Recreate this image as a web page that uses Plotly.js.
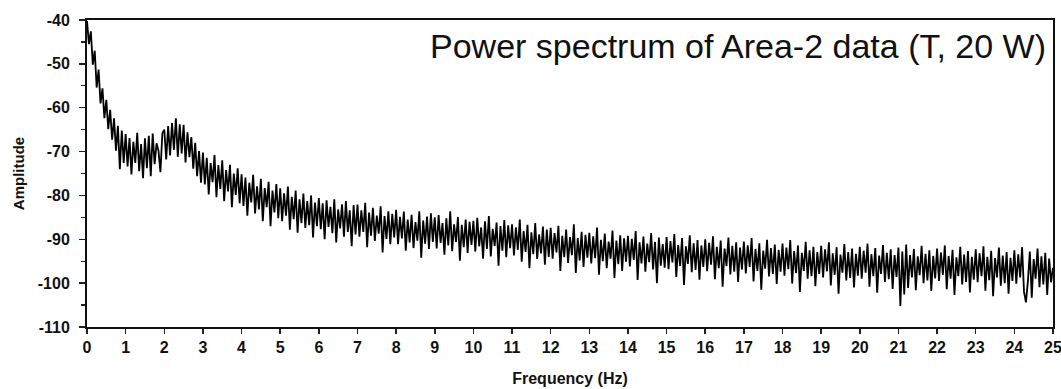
<!DOCTYPE html>
<html>
<head>
<meta charset="utf-8">
<script src="https://cdn.plot.ly/plotly-3.0.1.min.js"></script>
<style>html,body{margin:0;padding:0;background:#fff;}#chart{width:1061px;height:389px;}</style>
</head>
<body>
<div id="chart"></div>
<script>
// Frequency grid: start and spacing (Hz)
const freqStart = 0;
const freqStep = 0.05;

// Amplitude values, one per 0.05 Hz, 0 .. 25 Hz
const amplitude = [
  // 0.00 - 0.95
  -40.2, -45.5, -42.6, -50.2, -47.0, -55.4, -51.3, -59.0, -55.6, -62.4, -58.2, -64.9, -60.5, -67.3, -62.4, -69.8, -64.1, -74.0, -65.2, -72.6,
  // 1
  -66.0, -73.4, -66.9, -75.2, -67.8, -72.6, -65.7, -74.5, -68.3, -76.1, -67.0, -73.8, -66.4, -75.6, -65.9, -72.9, -68.1, -69.8, -74.7, -65.8,
  // 2
  -65.0, -71.8, -64.2, -70.9, -63.5, -69.6, -62.4, -71.2, -63.8, -70.4, -63.9, -72.5, -65.6, -71.3, -66.7, -73.9, -68.0, -75.6, -69.9, -77.1,
  // 3
  -70.2, -77.5, -71.4, -79.8, -72.6, -77.0, -70.8, -80.4, -73.1, -78.5, -72.0, -81.3, -74.2, -79.1, -73.0, -82.7, -75.0, -79.9, -73.8, -81.8,
  // 4
  -75.2, -82.4, -75.9, -84.6, -77.1, -81.6, -75.3, -84.1, -77.9, -83.2, -76.2, -85.9, -78.3, -82.7, -76.9, -87.0, -78.9, -83.9, -77.4, -85.2,
  // 5
  -78.4, -85.9, -79.5, -84.6, -78.0, -87.8, -80.3, -85.4, -78.9, -88.5, -80.9, -86.3, -79.6, -87.4, -81.3, -86.8, -80.0, -89.6, -81.6, -87.0,
  // 6
  -80.6, -87.7, -81.8, -90.0, -81.1, -87.2, -82.6, -88.6, -80.9, -90.7, -83.2, -87.5, -82.0, -89.4, -81.3, -88.3, -83.4, -91.6, -82.2, -88.9,
  // 7
  -82.1, -89.4, -83.4, -88.3, -81.7, -91.8, -83.9, -89.2, -82.8, -90.4, -84.6, -88.7, -82.5, -93.0, -84.7, -89.9, -83.6, -91.1, -84.2, -89.6,
  // 8
  -83.3, -91.1, -84.9, -89.8, -83.7, -92.6, -85.5, -90.7, -84.4, -92.0, -86.1, -90.3, -83.6, -94.2, -85.7, -91.0, -84.8, -92.2, -84.1, -90.6,
  // 9
  -85.0, -92.1, -84.5, -90.8, -86.3, -93.5, -85.2, -91.4, -83.6, -92.7, -86.6, -90.6, -84.9, -94.9, -86.7, -91.8, -85.5, -93.1, -86.0, -91.3,
  // 10
  -85.8, -92.8, -85.1, -91.6, -87.3, -94.4, -85.9, -92.2, -84.7, -93.9, -87.6, -91.5, -86.2, -96.0, -87.0, -92.6, -85.6, -94.1, -86.8, -92.0,
  // 11
  -86.6, -93.7, -87.3, -92.4, -85.5, -95.1, -88.1, -92.9, -86.7, -96.6, -88.4, -93.4, -86.3, -94.5, -88.9, -93.2, -87.1, -95.8, -87.8, -94.0,
  // 12
  -87.4, -94.4, -88.6, -93.0, -86.9, -97.2, -89.2, -94.1, -87.8, -95.4, -89.5, -93.6, -86.6, -97.7, -89.7, -94.8, -88.3, -96.3, -89.0, -94.2,
  // 13
  -88.5, -95.5, -89.3, -94.3, -87.3, -98.1, -90.1, -95.0, -88.7, -96.6, -90.5, -94.4, -88.0, -98.8, -90.3, -95.7, -89.1, -97.2, -89.8, -95.1,
  // 14
  -89.2, -96.2, -89.9, -94.7, -88.1, -99.3, -90.7, -95.5, -89.4, -97.4, -91.0, -95.2, -88.6, -96.9, -90.6, -100.0, -89.6, -96.0, -91.1, -96.5,
  // 15
  -89.5, -96.8, -90.4, -95.3, -88.8, -98.6, -91.3, -96.1, -89.7, -100.4, -91.6, -95.6, -89.1, -97.5, -90.9, -97.0, -90.2, -99.2, -91.4, -96.3,
  // 16
  -90.0, -97.3, -90.8, -95.8, -89.3, -99.1, -91.7, -96.6, -90.3, -100.8, -92.1, -96.1, -89.6, -98.0, -91.5, -97.4, -90.7, -99.7, -91.9, -96.9,
  // 17
  -90.5, -97.8, -91.4, -96.3, -89.7, -99.6, -92.2, -97.2, -90.9, -101.5, -92.6, -96.7, -90.1, -98.5, -92.0, -97.9, -91.2, -100.2, -92.4, -97.4,
  // 18
  -91.0, -98.3, -91.9, -96.8, -90.2, -100.1, -92.7, -97.7, -91.4, -102.0, -93.1, -97.2, -90.6, -99.0, -92.5, -98.4, -91.7, -100.7, -92.9, -97.9,
  // 19
  -91.5, -98.7, -92.3, -97.3, -90.7, -100.5, -93.2, -98.1, -91.8, -102.4, -93.5, -97.6, -91.1, -99.4, -92.9, -98.8, -92.1, -101.0, -93.3, -98.3,
  // 20
  -91.7, -99.0, -92.6, -97.6, -91.0, -100.8, -93.4, -98.4, -92.0, -102.2, -93.7, -97.9, -91.3, -99.7, -93.1, -99.1, -92.3, -101.3, -93.6, -98.6,
  // 21
  -91.9, -105.2, -92.8, -102.6, -91.2, -101.1, -93.6, -98.7, -92.2, -101.6, -93.9, -98.2, -91.5, -100.0, -93.3, -99.4, -92.5, -101.8, -93.8, -98.9,
  // 22
  -92.1, -99.5, -93.0, -98.1, -91.4, -101.4, -93.8, -99.0, -92.4, -102.7, -94.1, -98.4, -91.7, -100.3, -93.5, -99.7, -92.7, -102.1, -94.0, -99.2,
  // 23
  -92.3, -99.8, -93.2, -98.4, -91.6, -101.7, -94.0, -99.3, -92.6, -103.0, -94.3, -98.7, -91.9, -100.6, -93.7, -100.0, -92.9, -102.4, -94.2, -99.5,
  // 24
  -92.5, -100.1, -93.4, -98.7, -91.8, -102.0, -104.4, -99.6, -92.8, -103.3, -94.5, -99.0, -92.1, -100.9, -93.9, -100.3, -93.1, -102.7, -94.4, -99.8,
  // 25
  -96.5
];

// Axis ticks as printed (plain hyphen minus)
const yTickVals = [-110, -100, -90, -80, -70, -60, -50, -40];
const yTickText = ["-110", "-100", "-90", "-80", "-70", "-60", "-50", "-40"];

const titleText = "Power spectrum of Area-2 data (T, 20 W)";
const xTitle = "Frequency (Hz)";
const yTitle = "Amplitude";

const fam = "Liberation Sans, Arial, sans-serif";
const tickFont = {family: fam, size: 16, color: "#111", weight: "bold"};

const trace = {
  type: "scatter",
  mode: "lines",
  x0: freqStart,
  dx: freqStep,
  y: amplitude,
  line: {color: "#000", width: 1.8},
  hoverinfo: "skip"
};

const layout = {
  width: 1061,
  height: 389,
  margin: {l: 87, r: 8, t: 20, b: 62},
  paper_bgcolor: "#fff",
  plot_bgcolor: "#fff",
  showlegend: false,
  xaxis: {
    range: [0, 25],
    dtick: 1,
    tick0: 0,
    ticks: "outside",
    ticklen: 5,
    tickwidth: 1.5,
    tickcolor: "#222",
    showgrid: false,
    zeroline: false,
    showline: true,
    linecolor: "#111",
    linewidth: 2,
    mirror: true,
    tickfont: tickFont,
    ticklabelstandoff: 0,
    ticklabeloverflow: "allow",
    title: {text: xTitle, font: {family: fam, size: 16, color: "#111", weight: "bold"}, standoff: 18}
  },
  yaxis: {
    range: [-110, -40],
    tickmode: "array",
    tickvals: yTickVals,
    ticktext: yTickText,
    ticks: "outside",
    ticklen: 6,
    tickwidth: 1.5,
    tickcolor: "#222",
    minor: {dtick: 5, tick0: -110, ticks: "outside", ticklen: 4, tickcolor: "#222", tickwidth: 1.2},
    showgrid: false,
    zeroline: false,
    showline: true,
    linecolor: "#111",
    linewidth: 2,
    mirror: true,
    tickfont: tickFont,
    ticklabelstandoff: 6,
    title: {text: yTitle, font: {family: fam, size: 15, color: "#111", weight: "bold"}, standoff: 10}
  },
  annotations: [{
    text: titleText,
    xref: "paper", yref: "paper",
    x: 1, y: 1,
    xanchor: "right", yanchor: "top",
    xshift: -5, yshift: -5,
    showarrow: false,
    font: {family: fam, size: 34, color: "#111"}
  }]
};

Plotly.newPlot("chart", [trace], layout, {displayModeBar: false, staticPlot: true});
</script>
</body>
</html>
